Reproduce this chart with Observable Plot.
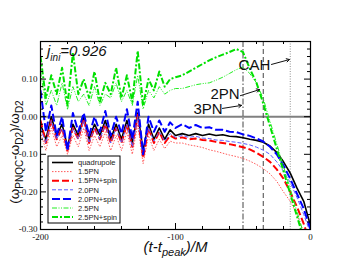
<!DOCTYPE html>
<html><head><meta charset="utf-8">
<script src="https://cdn.jsdelivr.net/npm/d3@7"></script>
<script src="https://cdn.jsdelivr.net/npm/@observablehq/plot@0.6"></script>
<style>body{margin:0;background:#fff;} svg{display:block}</style>
</head><body><div id="chart"></div>
<script>
// ---- data ----
const t = [-200,-196,-192,-188,-184,-180,-176,-172,-168,-164,-160,-156,-152,-148,-144,-140,-136,-132,-128,-124,-120,-116,-112,-108,-104,-100,
  -95,-90,-85,-80,-75,-70,-65,-60,-55,-50,-45,-40,-35,-30,-25,-20,-15,-10,-5,0];

const quad = [-0.02,-0.06,0.00,-0.05,-0.02,-0.08,-0.02,-0.05,0.00,-0.06,-0.02,-0.05,-0.01,-0.06,-0.02,-0.06,-0.01,-0.07,0.01,-0.09,-0.02,-0.06,-0.03,-0.06,-0.035,-0.05,
  -0.045,-0.05,-0.045,-0.05,-0.046,-0.05,-0.048,-0.052,-0.053,-0.056,-0.06,-0.063,-0.068,-0.078,-0.095,-0.12,-0.15,-0.19,-0.225,-0.29];
const pn15 = [-0.04,-0.09,-0.03,-0.08,-0.05,-0.10,-0.05,-0.08,-0.03,-0.09,-0.05,-0.08,-0.04,-0.09,-0.05,-0.09,-0.04,-0.10,-0.02,-0.125,-0.05,-0.09,-0.06,-0.085,-0.065,-0.07,
  -0.07,-0.075,-0.078,-0.082,-0.088,-0.092,-0.097,-0.102,-0.106,-0.111,-0.118,-0.127,-0.138,-0.152,-0.172,-0.2,-0.225,-0.26,-0.31,-0.37];
const pn15s = [-0.01,-0.07,-0.01,-0.06,-0.03,-0.09,-0.03,-0.06,-0.005,-0.07,-0.03,-0.06,-0.02,-0.07,-0.03,-0.07,-0.02,-0.08,0.005,-0.11,-0.03,-0.07,-0.04,-0.07,-0.05,-0.058,
  -0.055,-0.06,-0.058,-0.062,-0.063,-0.067,-0.07,-0.073,-0.077,-0.081,-0.087,-0.096,-0.107,-0.12,-0.14,-0.165,-0.2,-0.24,-0.285,-0.34];
const pn20 = [-0.03,-0.07,-0.01,-0.06,-0.03,-0.09,-0.03,-0.06,-0.01,-0.07,-0.03,-0.06,-0.02,-0.07,-0.03,-0.07,-0.02,-0.08,0.00,-0.10,-0.03,-0.065,-0.04,-0.065,-0.045,-0.055,
  -0.05,-0.055,-0.052,-0.057,-0.058,-0.062,-0.063,-0.066,-0.068,-0.071,-0.075,-0.081,-0.089,-0.10,-0.12,-0.145,-0.175,-0.215,-0.26,-0.31];
const pn20s = [0.07,-0.04,0.03,-0.05,0.00,-0.09,0.01,-0.04,0.01,-0.05,0.00,-0.04,0.015,-0.05,0.00,-0.045,0.02,-0.06,0.04,-0.10,0.00,-0.04,-0.01,-0.04,-0.015,-0.03,
  -0.02,-0.03,-0.022,-0.03,-0.028,-0.035,-0.035,-0.04,-0.041,-0.047,-0.051,-0.058,-0.066,-0.08,-0.1,-0.13,-0.165,-0.205,-0.245,-0.3];
const pn25 = [0.12,0.03,0.07,0.03,0.09,0.02,0.08,0.04,0.06,0.03,0.08,0.03,0.06,0.05,0.09,0.04,0.07,0.03,0.11,0.02,0.07,0.05,0.08,0.06,0.07,0.075,
  0.075,0.08,0.085,0.088,0.09,0.097,0.105,0.115,0.125,0.132,0.115,0.09,0.048,-0.012,-0.072,-0.132,-0.192,-0.252,-0.312,-0.372];
const pn25s = [0.16,0.05,0.11,0.06,0.13,0.03,0.17,0.06,0.10,0.05,0.12,0.04,0.09,0.06,0.13,0.05,0.11,0.04,0.175,0.03,0.10,0.07,0.12,0.08,0.10,0.105,
  0.11,0.12,0.13,0.14,0.15,0.158,0.165,0.172,0.18,0.172,0.128,0.09,0.035,-0.025,-0.085,-0.145,-0.205,-0.265,-0.325,-0.385];

const seriesNames = ["quadrupole","1.5PN","1.5PN+spin","2.0PN","2.0PN+spin","2.5PN","2.5PN+spin"];
const seriesValues = [quad, pn15, pn15s, pn20, pn20s, pn25, pn25s];

const xMajor = [-200,-100,0];
const xMinor = [-180,-160,-140,-120,-80,-60,-40,-20];
const yMajor = [-0.3,-0.2,-0.1,0,0.1];
const yMinor = [-0.28,-0.26,-0.24,-0.22,-0.18,-0.16,-0.14,-0.12,-0.08,-0.06,-0.04,-0.02,0.02,0.04,0.06,0.08,0.12,0.14,0.16,0.18];

const markerLabels = ["3PN","2PN","CAH"];
const markerTimes = [-50,-35,-15];
const labelX = [-86.7,-74.1,-53.3];
const labelY = [0.019,0.059,0.136];
const arrowFromX = [-65.2,-51.9,-28.9];
const arrowFromY = [0.022,0.056,0.139];
const arrowToX = [-51.1,-37.8,-15.6];
const arrowToY = [0.030,0.072,0.152];

// ---- styles ----
const styles = [
  {color:"#000000", width:1.6, dash:null},
  {color:"#ff5a5a", width:1, dash:"1.5,1.5"},
  {color:"#ff0000", width:2, dash:"7,3"},
  {color:"#5a5aff", width:1, dash:"4,2"},
  {color:"#0000ff", width:2, dash:"8,3"},
  {color:"#22ee22", width:1, dash:"5,1.5,1,1.5,1,1.5"},
  {color:"#00e000", width:2, dash:"6,2,2,2"}
];
const markerStyles = [
  {dash:"6,2,1.5,2", color:"#444", width:1},
  {dash:"5,3", color:"#444", width:1},
  {dash:"1,1.5", color:"#777", width:0.8}
];

const W = 349, H = 270, mL = 40, mR = 39, mT = 41, mB = 41;
const innerW = W - mL - mR, innerH = H - mT - mB;

const idx = markerLabels.map((d,i)=>i);

const plot = Plot.plot({
  width: W, height: H,
  marginLeft: mL, marginRight: mR, marginTop: mT, marginBottom: mB,
  x: {domain: [-200, 0]},
  y: {domain: [-0.3, 0.2]},
  style: {fontFamily: "'Liberation Serif', serif", fontSize: "9px", background: "white", color: "#111"},
  marks: [
    Plot.ruleY([0], {stroke: "#808080", strokeWidth: 2}),
    ...markerTimes.map((m, i) => Plot.ruleX([m], {stroke: markerStyles[i].color, strokeWidth: markerStyles[i].width, strokeDasharray: markerStyles[i].dash})),
    ...seriesValues.map((vals, i) => Plot.line(vals, {
      x: t, y: vals, stroke: styles[i].color, strokeWidth: styles[i].width,
      strokeDasharray: styles[i].dash, clip: true, strokeLinejoin: "round", strokeLinecap: "butt"
    })),
    Plot.text(idx, {x: i => labelX[i], y: i => labelY[i], text: i => markerLabels[i], textAnchor: "start",
      fontFamily: "'Liberation Sans', Arial, sans-serif", fontSize: 15, fill: "#111"}),
    Plot.arrow(idx, {x1: i => arrowFromX[i], y1: i => arrowFromY[i], x2: i => arrowToX[i], y2: i => arrowToY[i],
      stroke: "#111", strokeWidth: 1, headLength: 5}),
    // tick marks, inward on all four sides
    Plot.ruleX(xMajor, {insetTop: innerH - 6, stroke: "black"}),
    Plot.ruleX(xMajor, {insetBottom: innerH - 6, stroke: "black"}),
    Plot.ruleX(xMinor, {insetTop: innerH - 3, stroke: "black"}),
    Plot.ruleX(xMinor, {insetBottom: innerH - 3, stroke: "black"}),
    Plot.ruleY(yMajor, {insetRight: innerW - 6, stroke: "black"}),
    Plot.ruleY(yMajor, {insetLeft: innerW - 6, stroke: "black"}),
    Plot.ruleY(yMinor, {insetRight: innerW - 3, stroke: "black"}),
    Plot.ruleY(yMinor, {insetLeft: innerW - 3, stroke: "black"}),
    Plot.axisX(xMajor, {tickSize: 0, tickPadding: 4, tickFormat: d => String(d), label: null, fontSize: 9}),
    Plot.axisY(yMajor, {tickSize: 0, tickPadding: 3, tickFormat: d => d.toFixed(2), label: null, fontSize: 9}),
    Plot.frame({stroke: "black", strokeWidth: 1.2})
  ]
});

document.getElementById("chart").appendChild(plot);

// ---- labels with subscripts and legend ----
const svg = d3.select(plot);
const sans = "'Liberation Sans', Arial, sans-serif";

// title j_ini = 0.926
const title = svg.append("text").attr("x", 47).attr("y", 56).attr("text-anchor", "start")
  .attr("font-family", sans).attr("font-style", "italic").attr("font-size", 15).attr("fill", "#111");
title.append("tspan").text("j");
title.append("tspan").attr("dy", 5).attr("font-size", 10).text("ini");
title.append("tspan").attr("dy", -5).text("=0.926");

// y label
const yl = svg.append("text").attr("transform", "translate(19,152) rotate(-90)")
  .attr("text-anchor", "middle").attr("font-family", sans).attr("font-size", 13.5).attr("fill", "#111");
yl.append("tspan").text("(ω");
yl.append("tspan").attr("dy", 3.5).attr("font-size", 10).text("PNQC");
yl.append("tspan").attr("dy", -3.5).text("-ω");
yl.append("tspan").attr("dy", 3.5).attr("font-size", 10).text("D2");
yl.append("tspan").attr("dy", -3.5).text(")/ω");
yl.append("tspan").attr("dy", 3.5).attr("font-size", 10).text("D2");

// x label
const xl = svg.append("text").attr("x", 175.5).attr("y", 252)
  .attr("text-anchor", "middle").attr("font-family", sans).attr("font-style", "italic")
  .attr("font-size", 15).attr("fill", "#111");
xl.append("tspan").text("(t-t");
xl.append("tspan").attr("dy", 4).attr("font-size", 11).text("peak");
xl.append("tspan").attr("dy", -4).text(")/M");

// legend
const lg = svg.append("g");
lg.append("rect").attr("x", 48).attr("y", 156).attr("width", 72).attr("height", 67)
  .attr("fill", "white").attr("stroke", "black").attr("stroke-width", 1);
seriesNames.forEach((name, i) => {
  const y = 162.5 + i * 9.1;
  lg.append("line").attr("x1", 52).attr("x2", 73).attr("y1", y).attr("y2", y)
    .attr("stroke", styles[i].color).attr("stroke-width", styles[i].width)
    .attr("stroke-dasharray", styles[i].dash);
  lg.append("text").attr("x", 78).attr("y", y + 2.7).attr("text-anchor", "start").attr("font-family", sans)
    .attr("font-size", 7.5).attr("fill", "#222").text(name);
});
</script></body></html>
